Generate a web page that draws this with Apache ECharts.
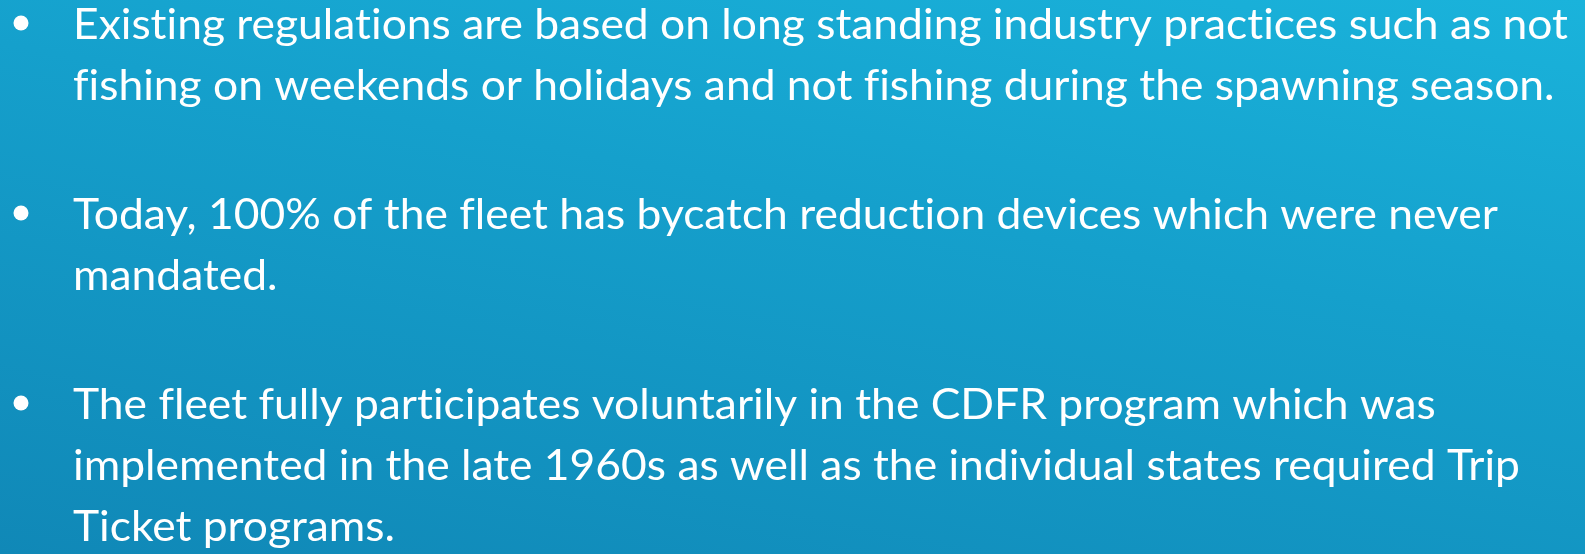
<!DOCTYPE html>
<html>
<head>
<meta charset="utf-8">
<script src="https://cdn.jsdelivr.net/npm/echarts@6/dist/echarts.min.js"></script>
<style>
  html, body { margin: 0; padding: 0; }
  #main { width: 1585px; height: 554px; }
</style>
</head>
<body>
<div id="main"></div>
<script>
// bullet text, one array of wrapped lines per bullet
const bullet1 = [
  'Existing regulations are based on long standing industry practices such as not',
  'fishing on weekends or holidays and not fishing during the spawning season.'
];
const bullet2 = [
  'Today, 100% of the fleet has bycatch reduction devices which were never',
  'mandated.'
];
const bullet3 = [
  'The fleet fully participates voluntarily in the CDFR program which was',
  'implemented in the late 1960s as well as the individual states required Trip',
  'Ticket programs.'
];
const bullets = [bullet1, bullet2, bullet3];

// layout
const fontFamily = 'Lato, "Open Sans", sans-serif';
const fontSize = 42;
const textLeft = 73;
const firstWidth = 1495; // width of the first line in the reference
const firstBaseline = 46;
const paraGap = 190;
const lineGap = 61;

// Lato joins fi / fl / ti, Calibri here does not: put a zero width non-joiner between them
const noLig = s => s.replace(/([ft])(?=[filt])/g, '$1\u200C');

// squeeze the substitute font to Calibri's width
const ctx = document.createElement('canvas').getContext('2d');
ctx.font = fontSize + 'px ' + fontFamily;
const sx = firstWidth / ctx.measureText(noLig(bullet1[0])).width;

const chart = echarts.init(document.getElementById('main'));

const elements = [{
  type: 'rect',
  shape: { x: 0, y: 0, width: 1585, height: 554 },
  style: {
    fill: new echarts.graphic.LinearGradient(0, 554, 155, -269, [
      { offset: 0, color: '#1088b7' },
      { offset: 0.6, color: '#15a0cc' },
      { offset: 1, color: '#1ab3db' }
    ], true)
  },
  silent: true
}];

bullets.forEach((lines, p) => {
  const base = firstBaseline + p * paraGap;
  elements.push({
    type: 'circle',
    shape: { cx: 21, cy: base - 23, r: 7.5 },
    style: { fill: '#ffffff' }
  });
  lines.forEach((line, i) => {
    elements.push({
      type: 'text',
      x: textLeft,
      y: base + i * lineGap,
      scaleX: sx,
      style: {
        text: noLig(line),
        fill: '#ffffff',
        font: fontSize + 'px ' + fontFamily,
        textAlign: 'left',
        textVerticalAlign: 'bottom'
      }
    });
  });
});

chart.setOption({
  animation: false,
  graphic: { elements: elements }
});
</script>
</body>
</html>
